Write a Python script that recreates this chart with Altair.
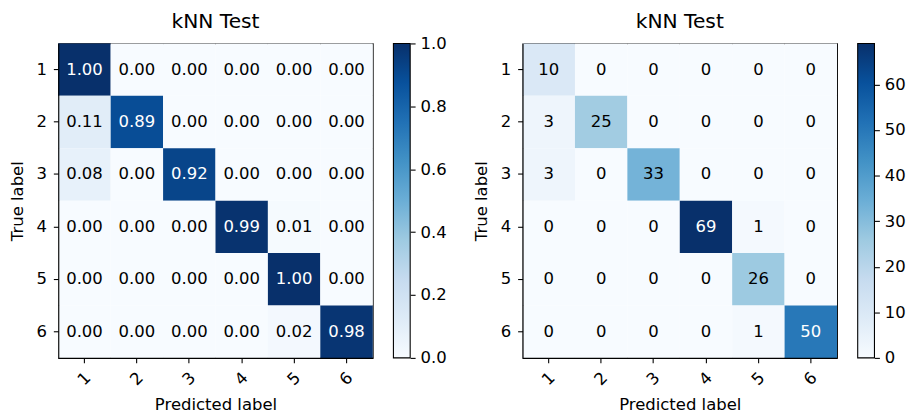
import altair as alt
import pandas as pd

labels = ["1", "2", "3", "4", "5", "6"]

norm_rows = [
    [1.00, 0.00, 0.00, 0.00, 0.00, 0.00],
    [0.11, 0.89, 0.00, 0.00, 0.00, 0.00],
    [0.08, 0.00, 0.92, 0.00, 0.00, 0.00],
    [0.00, 0.00, 0.00, 0.99, 0.01, 0.00],
    [0.00, 0.00, 0.00, 0.00, 1.00, 0.00],
    [0.00, 0.00, 0.00, 0.00, 0.02, 0.98],
]

count_rows = [
    [10, 0, 0, 0, 0, 0],
    [3, 25, 0, 0, 0, 0],
    [3, 0, 33, 0, 0, 0],
    [0, 0, 0, 69, 1, 0],
    [0, 0, 0, 0, 26, 0],
    [0, 0, 0, 0, 1, 50],
]

norm_ticks = [0.0, 0.2, 0.4, 0.6, 0.8, 1.0]
count_ticks = [0, 10, 20, 30, 40, 50, 60]

BLUES = ["#f7fbff", "#deebf7", "#c6dbef", "#9ecae1", "#6baed6",
         "#4292c6", "#2171b5", "#08519c", "#08306b"]
STOP_OFFSETS = [0.0, 0.125, 0.25, 0.375, 0.5, 0.625, 0.75, 0.875, 1.0]

FONT = "DejaVu Sans"
FS = 16.7
SIZE = 319
CB_GAP = 21
CB_W = 17


def to_df(rows):
    recs = []
    for i, row in enumerate(rows):
        for j, v in enumerate(row):
            recs.append({"true": labels[i], "pred": labels[j], "v": v})
    return pd.DataFrame(recs)


def panel(rows, vmax, fmt, ticks, tickfmt, title_offset):
    df = to_df(rows)
    base = alt.Chart(df).encode(
        x=alt.X("pred:O", sort=labels, title="Predicted label",
                scale=alt.Scale(paddingInner=0, paddingOuter=0),
                axis=alt.Axis(labelAngle=-45, labelAlign="center",
                              labelBaseline="middle", labelPadding=16,
                              titlePadding=8)),
        y=alt.Y("true:O", sort=labels, title="True label",
                scale=alt.Scale(paddingInner=0, paddingOuter=0),
                axis=alt.Axis(labelAngle=0, labelPadding=7, titlePadding=10)),
    )
    heat = base.mark_rect().encode(
        color=alt.Color("v:Q",
                        scale=alt.Scale(domain=[0, vmax], range=BLUES,
                                        interpolate="rgb"),
                        legend=None)
    )
    text = base.mark_text(fontSize=FS, font=FONT).encode(
        text=alt.Text("v:Q", format=fmt),
        color=alt.condition(alt.datum.v > vmax / 2, alt.value("white"),
                            alt.value("black")),
    )
    cb_df = pd.DataFrame({"lo": [0], "hi": [vmax]})
    grad = {
        "gradient": "linear", "x1": 0, "y1": 1, "x2": 0, "y2": 0,
        "stops": [{"offset": o, "color": c} for o, c in zip(STOP_OFFSETS, BLUES)],
    }
    cbar = alt.Chart(cb_df).mark_rect(stroke="black", strokeWidth=1.1).encode(
        x=alt.value(SIZE + CB_GAP),
        x2=alt.value(SIZE + CB_GAP + CB_W),
        y=alt.Y("lo:Q", scale=alt.Scale(domain=[0, vmax], nice=False, zero=True),
                axis=alt.Axis(orient="right", values=ticks, format=tickfmt,
                              title=None, domain=False, grid=False,
                              offset=CB_GAP + CB_W, labelPadding=5,
                              labelOverlap=False)),
        y2="hi:Q",
        color=alt.value(grad),
    )
    matrix = alt.layer(heat, text)
    return alt.layer(matrix, cbar).resolve_scale(y="independent").properties(
        width=SIZE, height=SIZE,
        title=alt.TitleParams("kNN Test", frame="group", fontSize=20.5,
                              font=FONT, fontWeight="normal", color="black",
                              offset=title_offset),
    )


left = panel(norm_rows, 1.0, ".2f", norm_ticks, ".1f", 3)
right = panel(count_rows, 69, "d", count_ticks, "d", 11)

chart = alt.hconcat(left, right, spacing=25).resolve_scale(
    color="independent"
).properties(padding=0).configure_view(
    stroke="black", strokeWidth=1.1
).configure_axis(
    labelFont=FONT, titleFont=FONT, labelFontSize=FS, titleFontSize=FS,
    labelColor="black", titleColor="black", titleFontWeight="normal",
    tickColor="black", domainColor="black", tickSize=5, tickWidth=1.1,
    domainWidth=1.1, grid=False
)

chart.save("out.html", embed_options={"renderer": "svg", "actions": False})
